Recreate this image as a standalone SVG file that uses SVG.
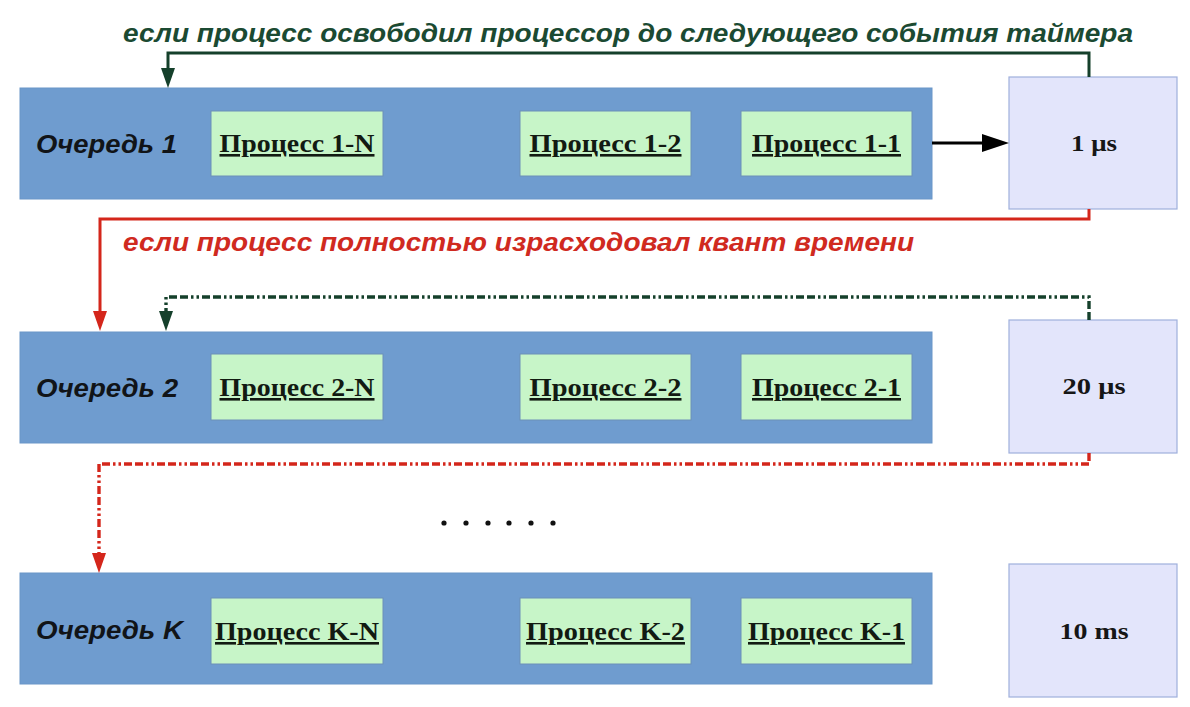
<svg xmlns="http://www.w3.org/2000/svg" width="1190" height="707" viewBox="0 0 1190 707">
<defs>
<style>
.bg{fill:#ffffff}
.queue{fill:#6f9ccf;stroke:#6a96c8;stroke-width:1}
.proc{fill:#c7f5c8;stroke:#6d8fb8;stroke-width:1}
.timer{fill:#e3e5fb;stroke:#9fb0dc;stroke-width:1.2}
.qlabel{font-family:"Liberation Sans",Arial,sans-serif;font-weight:bold;font-style:italic;font-size:25px;fill:#111418}
.plabel{font-family:"Liberation Serif","Times New Roman",serif;font-weight:bold;font-size:26px;fill:#121a12;text-decoration:underline}
.tlabel{font-family:"Liberation Serif","Times New Roman",serif;font-weight:bold;font-size:24px;fill:#161616}
.cap{font-family:"Liberation Sans",Arial,sans-serif;font-weight:bold;font-style:italic;font-size:26px}
.green{stroke:#15402b;fill:none;stroke-width:3}
.red{stroke:#d4261b;fill:none;stroke-width:3}
.black{stroke:#000;fill:none;stroke-width:3}
.dashdot{stroke-width:3.4;stroke-dasharray:8 3 8 3 2.5 3 2.5 3}
</style>
<marker id="ahG" viewBox="0 0 20 14" refX="0" refY="7" markerWidth="20" markerHeight="14" markerUnits="userSpaceOnUse" orient="auto"><path d="M0,0 L20,7 L0,14 Z" fill="#15402b"/></marker>
<marker id="ahR" viewBox="0 0 20 14" refX="0" refY="7" markerWidth="20" markerHeight="14" markerUnits="userSpaceOnUse" orient="auto"><path d="M0,0 L20,7 L0,14 Z" fill="#d4261b"/></marker>
<marker id="ahK" viewBox="0 0 27 18" refX="0" refY="9" markerWidth="27" markerHeight="18" markerUnits="userSpaceOnUse" orient="auto"><path d="M0,0 L27,9 L0,18 Z" fill="#000"/></marker>
</defs>
<rect class="bg" x="0" y="0" width="1190" height="707"/>

<g id="queue1">
<rect class="queue" x="20" y="88" width="912" height="111"/>
<text class="qlabel" x="36" y="153" textLength="141" lengthAdjust="spacingAndGlyphs">Очередь 1</text>
</g>
<g id="proc1N"><rect class="proc" x="211" y="111" width="172" height="65"/><text class="plabel" x="297" y="152" text-anchor="middle" textLength="155" lengthAdjust="spacingAndGlyphs">Процесс 1-N</text></g>
<g id="proc12"><rect class="proc" x="520" y="111" width="171" height="65"/><text class="plabel" x="605.5" y="152" text-anchor="middle" textLength="152" lengthAdjust="spacingAndGlyphs">Процесс 1-2</text></g>
<g id="proc11"><rect class="proc" x="741" y="111" width="171" height="65"/><text class="plabel" x="826.5" y="152" text-anchor="middle" textLength="149" lengthAdjust="spacingAndGlyphs">Процесс 1-1</text></g>
<g id="timer1"><rect class="timer" x="1009" y="77" width="168" height="132"/><text class="tlabel" x="1094" y="151" text-anchor="middle" textLength="46" lengthAdjust="spacingAndGlyphs">1 μs</text></g>

<g id="queue2">
<rect class="queue" x="20" y="332" width="912" height="111"/>
<text class="qlabel" x="36" y="397" textLength="142" lengthAdjust="spacingAndGlyphs">Очередь 2</text>
</g>
<g id="proc2N"><rect class="proc" x="211" y="354" width="172" height="66"/><text class="plabel" x="297" y="396" text-anchor="middle" textLength="155" lengthAdjust="spacingAndGlyphs">Процесс 2-N</text></g>
<g id="proc22"><rect class="proc" x="520" y="354" width="171" height="66"/><text class="plabel" x="605.5" y="396" text-anchor="middle" textLength="152" lengthAdjust="spacingAndGlyphs">Процесс 2-2</text></g>
<g id="proc21"><rect class="proc" x="741" y="354" width="171" height="66"/><text class="plabel" x="826.5" y="396" text-anchor="middle" textLength="149" lengthAdjust="spacingAndGlyphs">Процесс 2-1</text></g>
<g id="timer2"><rect class="timer" x="1009" y="320" width="168" height="133"/><text class="tlabel" x="1094" y="394" text-anchor="middle" textLength="63" lengthAdjust="spacingAndGlyphs">20 μs</text></g>

<g id="ellipsis">
<circle cx="444" cy="523" r="2.6" fill="#111"/><circle cx="466" cy="523" r="2.6" fill="#111"/><circle cx="488" cy="523" r="2.6" fill="#111"/><circle cx="509" cy="523" r="2.6" fill="#111"/><circle cx="531" cy="523" r="2.6" fill="#111"/><circle cx="553" cy="523" r="2.6" fill="#111"/>
</g>

<g id="queueK">
<rect class="queue" x="20" y="573" width="912" height="111"/>
<text class="qlabel" x="36" y="639" textLength="147" lengthAdjust="spacingAndGlyphs">Очередь K</text>
</g>
<g id="procKN"><rect class="proc" x="211" y="598" width="172" height="66"/><text class="plabel" x="297" y="640" text-anchor="middle" textLength="164" lengthAdjust="spacingAndGlyphs">Процесс K-N</text></g>
<g id="procK2"><rect class="proc" x="520" y="598" width="171" height="66"/><text class="plabel" x="605.5" y="640" text-anchor="middle" textLength="159" lengthAdjust="spacingAndGlyphs">Процесс K-2</text></g>
<g id="procK1"><rect class="proc" x="741" y="598" width="171" height="66"/><text class="plabel" x="826.5" y="640" text-anchor="middle" textLength="157" lengthAdjust="spacingAndGlyphs">Процесс K-1</text></g>
<g id="timerK"><rect class="timer" x="1009" y="564" width="168" height="133"/><text class="tlabel" x="1094" y="639" text-anchor="middle" textLength="69" lengthAdjust="spacingAndGlyphs">10 ms</text></g>

<g id="connectors">
<path class="black" d="M932,143 H982" marker-end="url(#ahK)"/>
<path class="green" d="M1089,77 V53 H168 V68" marker-end="url(#ahG)"/>
<path class="red" d="M1089,209 V219 H100 V311" marker-end="url(#ahR)"/>
<path class="green dashdot" d="M1089,320 V297 H166 V311" marker-end="url(#ahG)"/>
<path class="red dashdot" d="M1089,453 V464 H99 V553" marker-end="url(#ahR)"/>
<text class="cap" x="123" y="42" fill="#1b4a32" textLength="1010" lengthAdjust="spacingAndGlyphs">если процесс освободил процессор до следующего события таймера</text>
<text class="cap" x="123" y="251" fill="#d02a1f" textLength="791" lengthAdjust="spacingAndGlyphs">если процесс полностью израсходовал квант времени</text>
</g>
</svg>
